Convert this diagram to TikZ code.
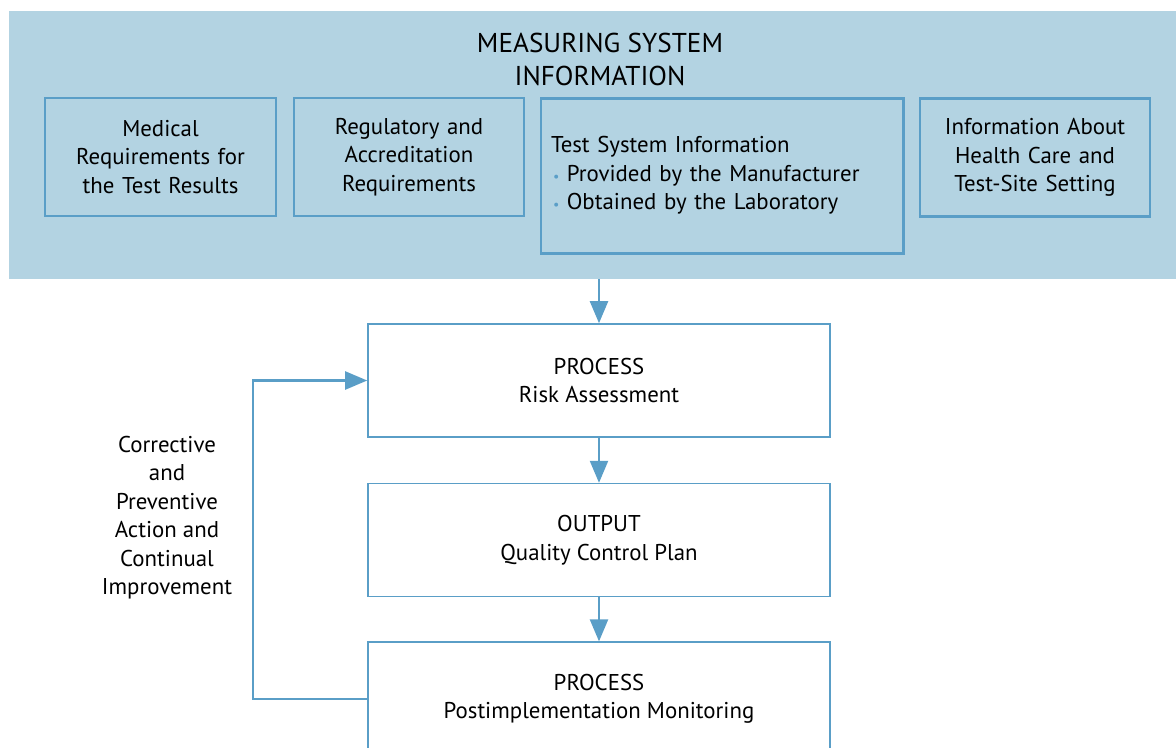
\documentclass[tikz,border=0pt]{standalone}
\usepackage{fontspec}
\setmainfont{PT Sans}
\usetikzlibrary{arrows.meta, positioning}

\definecolor{panelblue}{HTML}{B3D3E2}
\definecolor{lineblue}{HTML}{5A9EC7}

\begin{document}
\begin{tikzpicture}[
    font=\fontsize{13}{16.2}\selectfont,
    topbox/.style={draw=lineblue, line width=1.2pt, minimum width=4.61cm,
        minimum height=2.36cm, text width=4.4cm, align=center, inner sep=0pt},
    flowbox/.style={draw=lineblue, line width=0.9pt, fill=white,
        minimum width=9.24cm, minimum height=2.26cm, align=center},
    flow/.style={draw=lineblue, line width=1.3pt,
        -{Triangle[length=0.44cm,width=0.36cm]}}
]
    \useasboundingbox (0,0) rectangle (23.52,-14.94);

    % --- measuring system information panel ---
    \node[fill=panelblue, minimum width=23.34cm, minimum height=5.36cm, inner sep=0pt]
        (msi) at (11.85,-2.90) {};
    \node[font=\fontsize{15.5}{18.7}\selectfont, align=center] (title) at (12.0,-1.19)
        {MEASURING SYSTEM\\INFORMATION};

    \node[topbox] (med) at (3.21,-3.14)
        {Medical\\Requirements for\\the Test Results};
    \node[topbox] (reg) at (8.18,-3.14)
        {Regulatory and\\Accreditation\\Requirements};
    \node[draw=lineblue, line width=1.7pt, minimum width=7.24cm, minimum height=3.10cm,
        text width=6.84cm, inner xsep=0.2cm, align=left] (tsi) at (14.44,-3.51)
        {Test System Information\\
         \hspace*{0.04cm}{\color{lineblue}\footnotesize\textbullet}\hspace{0.15cm}Provided by the Manufacturer\\
         \hspace*{0.04cm}{\color{lineblue}\footnotesize\textbullet}\hspace{0.15cm}Obtained by the Laboratory};
    \node[topbox] (hcs) at (20.70,-3.15)
        {Information About\\Health Care and\\Test-Site Setting};

    % --- process chain ---
    \node[flowbox] (ra) at (11.98,-7.61) {PROCESS\\Risk Assessment};
    \node[flowbox, below=0.9cm of ra] (qcp) {OUTPUT\\Quality Control Plan};
    \node[flowbox, below=0.88cm of qcp] (pim) {PROCESS\\Postimplementation Monitoring};

    \draw[flow] (ra.north |- msi.south) -- (ra.north);
    \draw[flow] (ra) -- (qcp);
    \draw[flow] (qcp) -- (pim);

    % feedback loop
    \draw[flow] (pim.west) -- ++(-2.28,0) |- (ra.west);
    \node[align=center] (capa) at (3.34,-10.35)
        {Corrective\\and\\Preventive\\Action and\\Continual\\Improvement};
\end{tikzpicture}
\end{document}
